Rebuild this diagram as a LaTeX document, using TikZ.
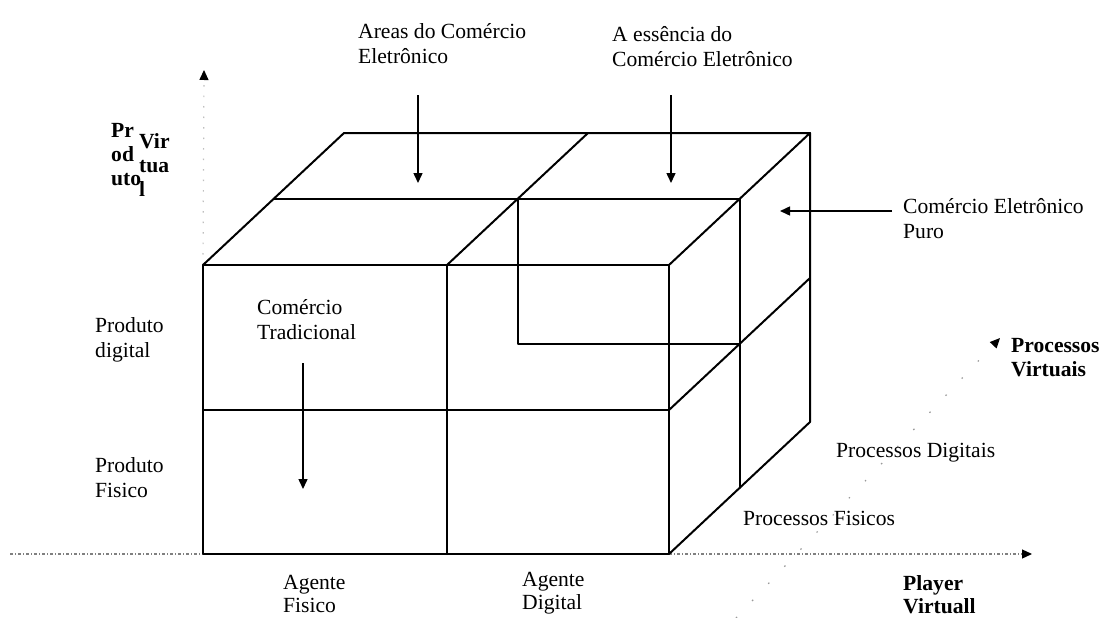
\documentclass[tikz,border=0pt]{standalone}
\usepackage{fontspec}
\setmainfont{Liberation Serif}
\usetikzlibrary{arrows.meta}
\begin{document}
\begin{tikzpicture}[x=1pt,y=-1pt,
  cubeline/.style={line width=2pt, line cap=round, line join=round},
  lbl/.style={font=\fontsize{21.6}{25}\selectfont, align=left, inner sep=0pt, anchor=west},
  blbl/.style={lbl, font=\fontsize{21.6}{24}\selectfont\bfseries},
  lowlbl/.style={lbl, font=\fontsize{21.6}{23.5}\selectfont},
  pointer/.style={line width=1.5pt, -{Triangle[length=10pt,width=9pt]}},
  axisline/.style={line width=1.2pt, black!50, dash pattern=on 3pt off 2pt on 1pt off 2pt},
  faintaxis/.style={line width=1.2pt, black!25, dash pattern=on 1.5pt off 9pt},
  axistip/.style={-{Triangle[length=10pt,width=9pt,color=black]}}]
\useasboundingbox (0,0) rectangle (1105,618);

% ---- axes ----
\coordinate (hstart) at (10,554);
\coordinate (origin) at (203,554);
\coordinate (frontbr) at (669,554);
\coordinate (hend) at (1032,554);
\coordinate (vtop) at (204,70);
\coordinate (vlow) at (203,265);
\coordinate (dstart) at (736,618);
\coordinate (dend) at (1000,338);
\draw[axisline] (hstart) -- (origin);
\draw[axisline, axistip] (frontbr) -- (hend);
\draw[faintaxis, axistip] (vlow) -- (vtop);
\draw[faintaxis, black!40, dash pattern=on 1.5pt off 22pt, axistip] (dstart) -- (dend);

% ---- cube: front face ----
\draw[cubeline] (203,265) rectangle (669,554);
\draw[cubeline] (203,410) -- (669,410);
\draw[cubeline] (447,265) -- (447,554);
% top face
\draw[cubeline] (203,265) -- (344,133) -- (810,133) -- (669,265);
\draw[cubeline] (447,265) -- (588,133);
\draw[cubeline] (273.5,199) -- (739.5,199);
% right face
\draw[cubeline] (810,133) -- (810,422) -- (669,554);
\draw[cubeline] (669,410) -- (810,278);
\draw[cubeline] (739.5,199) -- (739.5,488);
% inner block (back upper right)
\draw[cubeline] (517.5,199) -- (517.5,344) -- (739.5,344);

% ---- labels ----
\node[lbl] (areas) at (358,44) {Areas do Comércio\\Eletrônico};
\node[lbl] (essencia) at (612,47) {A essência do\\Comércio Eletrônico};
\node[lbl] (puro) at (903,219) {Comércio Eletrônico\\Puro};
\node[blbl] (pvirt) at (1011,358) {Processos\\Virtuais};
\node[lbl] (pdig) at (836,453) {Processos Digitais};
\node[lbl] (pfis) at (743,518) {Processos Fisicos};
\node[blbl, font=\fontsize{21.6}{23}\selectfont\bfseries] (player) at (903,595) {Player\\Virtuall};
\node[lowlbl] (agfis) at (283,594) {Agente\\Fisico};
\node[lowlbl] (agdig) at (522,593) {Agente\\Digital};
\node[lbl] (proddig) at (95,340) {Produto\\digital};
\node[lbl] (prodfis) at (95,478) {Produto\\Fisico};
\node[lbl] (trad) at (257,320) {Comércio\\Tradicional};
\node[blbl] (prod) at (111,155) {Pr\\od\\uto};
\node[blbl] (virt) at (139,165) {Vir\\tua\\l};

% ---- pointers ----
\coordinate (a1s) at (418,95);  \coordinate (a1e) at (418,183);
\coordinate (a2s) at (671,95);  \coordinate (a2e) at (671,183);
\coordinate (a3s) at (892,211); \coordinate (a3e) at (780,211);
\coordinate (a4s) at (303,363); \coordinate (a4e) at (303,489);
\draw[pointer] (a1s) -- (a1e);
\draw[pointer] (a2s) -- (a2e);
\draw[pointer] (a3s) -- (a3e);
\draw[pointer] (a4s) -- (a4e);
\end{tikzpicture}
\end{document}
